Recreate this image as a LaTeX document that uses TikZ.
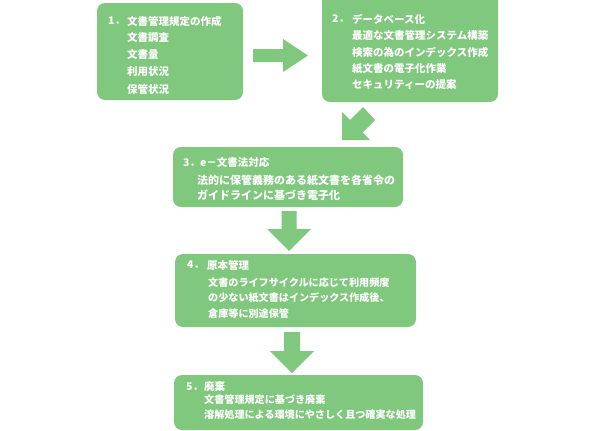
\documentclass[tikz,border=0pt]{standalone}
\usepackage{fontspec}
\newfontfamily\jpfont{Noto Sans CJK JP}
\usetikzlibrary{positioning}
\definecolor{stagegreen}{RGB}{128,200,125}

\tikzset{
  stagebox/.style={fill=stagegreen, rounded corners=8pt},
  stagetext/.style={anchor=west, inner sep=0pt, text=white,
    font=\jpfont\bfseries\fontsize{10.5}{12}\selectfont},
  narrowtext/.style={stagetext, font=\jpfont\bfseries\fontsize{10.1}{12}\selectfont},
  widetext/.style={stagetext, font=\jpfont\bfseries\fontsize{11}{12}\selectfont},
  flowarrow/.style={fill=stagegreen}
}

\begin{document}
\begin{tikzpicture}[x=1pt,y=-1pt]
\useasboundingbox (0,0) rectangle (600,431);

% Boxes
\path[stagebox] (97,3) rectangle (243,100);
\path[stagebox] (322,-8) rectangle (498,102);
\path[stagebox] (173,147) rectangle (403,207);
\path[stagebox] (175,254) rectangle (416,327);
\path[stagebox] (174,375) rectangle (423,430);

% 1
\node[stagetext] (n1) at (108,21) {1．};
\node[stagetext] (t1) at (127,21) {文書管理規定の作成};
\node[stagetext] (t1a) at (127,38) {文書調査};
\node[stagetext] (t1b) at (127,55) {文書量};
\node[stagetext] (t1c) at (127,72) {利用状況};
\node[stagetext] (t1d) at (127,89) {保管状況};

% 2
\node[stagetext] (n2) at (332,19) {2．};
\node[stagetext] (t2) at (352,19) {データベース化};
\node[stagetext] (t2a) at (352,35) {最適な文書管理システム構築};
\node[stagetext] (t2b) at (352,52) {検索の為のインデックス作成};
\node[stagetext] (t2c) at (352,69) {紙文書の電子化作業};
\node[stagetext] (t2d) at (352,85) {セキュリティーの提案};

% 3
\node[stagetext] (t3) at (183,163) {3．e－文書法対応};
\node[widetext] (t3a) at (197,180) {法的に保管義務のある紙文書を各省令の};
\node[widetext] (t3b) at (197,195) {ガイドラインに基づき電子化};

% 4
\node[stagetext] (n4) at (187,265) {4．};
\node[stagetext] (t4) at (207,265) {原本管理};
\node[narrowtext] (t4a) at (208,283) {文書のライフサイクルに応じて利用頻度};
\node[narrowtext] (t4b) at (208,298) {の少ない紙文書はインデックス作成後、};
\node[narrowtext] (t4c) at (208,314) {倉庫等に別途保管};

% 5
\node[stagetext] (n5) at (186,387) {5．};
\node[stagetext] (t5) at (204,387) {廃棄};
\node[narrowtext] (t5a) at (204,400) {文書管理規定に基づき廃棄};
\node[narrowtext] (t5b) at (204,415) {溶解処理による環境にやさしく且つ確実な処理};

% Arrows
\fill[flowarrow] (253,49) -- (283,49) -- (283,39) -- (308,55.5) -- (283,72) -- (283,62) -- (253,62) -- cycle;
\fill[flowarrow] (375,120) -- (362.5,132.5) -- (370,140) -- (342,140) -- (342,112) -- (350,120) -- (363,107) -- cycle;
\fill[flowarrow] (281.5,211) -- (296.5,211) -- (296.5,229) -- (311,229) -- (289,251) -- (267,229) -- (281.5,229) -- cycle;
\fill[flowarrow] (284,332) -- (300,332) -- (300,351) -- (314,351) -- (292,373) -- (270,351) -- (284,351) -- cycle;

\end{tikzpicture}
\end{document}
